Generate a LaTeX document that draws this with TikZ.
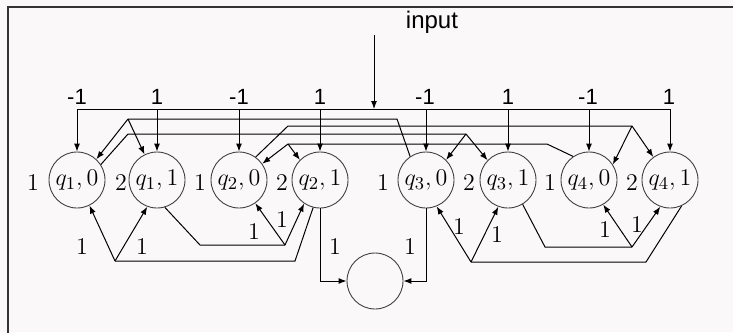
\documentclass[tikz,border=0pt]{standalone}
\usepackage{fontspec}
\newfontfamily\labfont{Liberation Sans}
\usetikzlibrary{arrows.meta}
\definecolor{bgc}{RGB}{251,248,250}
\begin{document}
\begin{tikzpicture}[x=0.5pt,y=-0.5pt,
  st/.style={circle,draw=black!75,line width=0.45pt,minimum size=28pt,inner sep=0pt,font=\fontsize{13}{15}\selectfont},
  wl/.style={font=\labfont\fontsize{11}{13}\selectfont,inner sep=0pt},
  sl/.style={font=\fontsize{12}{14}\selectfont,inner sep=0pt},
  ln/.style={line width=0.5pt},
  ar/.style={ln,-{Latex[length=4pt,width=3pt]}},
]
\useasboundingbox (0,0) rectangle (733,332);
\clip (0,0) rectangle (733,332);
\fill[bgc] (0,0) rectangle (733,332);
\draw[line width=1pt,black!80] (8,7) rectangle (760,360);

% states
\node[st] (q10) at (77,180) {$q_1,0$};
\node[st] (q11) at (157,180) {$q_1,1$};
\node[st] (q20) at (239,180) {$q_2,0$};
\node[st] (q21) at (320,180) {$q_2,1$};
\node[st] (q30) at (426,180) {$q_3,0$};
\node[st] (q31) at (508,180) {$q_3,1$};
\node[st] (q40) at (589,180) {$q_4,0$};
\node[st] (q41) at (670,180) {$q_4,1$};
\node[st] (out) at (375,281) {};

% side labels
\node[sl] (s1) at (33,183) {1};
\node[sl] (s2) at (121,183) {2};
\node[sl] (s3) at (200,183) {1};
\node[sl] (s4) at (282,183) {2};
\node[sl] (s5) at (383,183) {1};
\node[sl] (s6) at (469,183) {2};
\node[sl] (s7) at (550,183) {1};
\node[sl] (s8) at (632,183) {2};

% top weights
\node[wl] (w1) at (77,97) {-1};
\node[wl] (w2) at (157,97) {1};
\node[wl] (w3) at (239,97) {-1};
\node[wl] (w4) at (320,97) {1};
\node[wl] (w5) at (425,97) {-1};
\node[wl] (w6) at (508,97) {1};
\node[wl] (w7) at (588,97) {-1};
\node[wl] (w8) at (669,97) {1};

% input
\node[wl,font=\labfont\fontsize{12}{14}\selectfont] (inp) at (432,22) {input};
\coordinate (bus) at (0,109);
\coordinate (inTop) at (374,35);
\draw[ar] (inTop) -- (inTop |- bus);

% bus
\draw[ln] (q10.north |- bus) -- (q41.north |- bus);
\foreach \n in {q10,q11,q20,q21,q30,q31,q40,q41}
  \draw[ar] (\n.north |- bus) -- (\n.north);

% line 2
\coordinate (p2) at (128,119);
\coordinate (e2) at (397,119);
\draw[ln] (q30.124) -- (e2) -- (p2);
\draw[ar] (p2) -- (q10.47);
\draw[ar] (p2) -- (q11.116);

% line 3
\coordinate (s3c) at (288,126);
\coordinate (p3) at (632,126);
\draw[ln] (q20.54) -- (s3c) -- (p3);
\draw[ar] (p3) -- (q40.33);
\draw[ar] (p3) -- (q41.126);

% line 4
\coordinate (s4c) at (128,134);
\coordinate (p4) at (466,134);
\draw[ln] (q10.33) -- (s4c) -- (p4);
\draw[ar] (p4) -- (q30.45);
\draw[ar] (p4) -- (q31.136);

% line 5
\coordinate (p5) at (288,144);
\coordinate (e5) at (547,144);
\draw[ln] (q40.124) -- (e5) -- (p5);
\draw[ar] (p5) -- (q20.35);
\draw[ar] (p5) -- (q21.135);

% bottom left
\coordinate (b1p) at (115,261);
\coordinate (b1e) at (295,261);
\draw[ln] (q21.-104) -- (b1e) -- (b1p);
\draw[ar] (b1p) -- (q10.-64);
\draw[ar] (b1p) -- (q11.-110);
\node[sl] (l1) at (82,247) {1};
\node[sl] (l2) at (142,247) {1};

\coordinate (b2s) at (200,245);
\coordinate (b2p) at (285,245);
\draw[ln] (q11.-74) -- (b2s) -- (b2p);
\draw[ar] (b2p) -- (q20.-55);
\draw[ar] (b2p) -- (q21.-124);
\node[sl] (l3) at (254,232) {1};
\node[sl] (l4) at (282,220) {1};

% into bottom circle
\draw[ar] (q21.south) -- (q21.south |- out.west) -- (out.west);
\draw[ar] (q30.south) -- (q30.south |- out.east) -- (out.east);
\node[sl] (l5) at (335,247) {1};
\node[sl] (l6) at (410,247) {1};

% bottom right
\coordinate (b3p) at (471,262);
\coordinate (b3e) at (646,262);
\draw[ln] (q41.-66) -- (b3e) -- (b3p);
\draw[ar] (b3p) -- (q30.-68);
\draw[ar] (b3p) -- (q31.-110);
\node[sl] (l7) at (459,227) {1};
\node[sl] (l8) at (497,235) {1};

\coordinate (b4s) at (545,247);
\coordinate (b4p) at (632,247);
\draw[ln] (q31.-59) -- (b4s) -- (b4p);
\draw[ar] (b4p) -- (q40.-60);
\draw[ar] (b4p) -- (q41.-110);
\node[sl] (l9) at (605,230) {1};
\node[sl] (l10) at (637,225) {1};
\end{tikzpicture}
\end{document}
